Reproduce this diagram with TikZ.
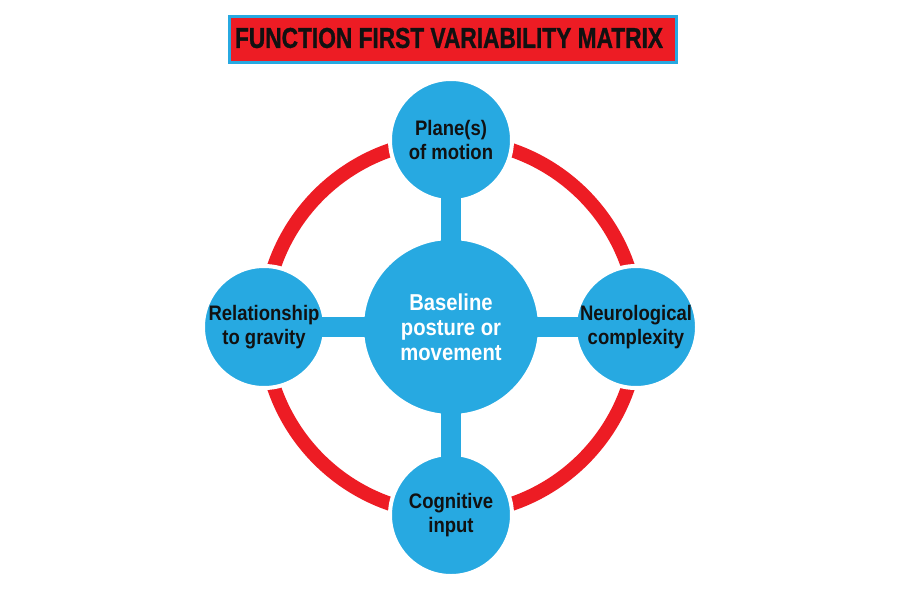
\documentclass[tikz,border=0pt]{standalone}
\usepackage{fontspec}
\setmainfont{Liberation Sans}
\newfontfamily\condf[FakeStretch=0.88]{Liberation Sans}
\newfontfamily\titlef[FakeBold=1.2]{Liberation Sans Bold}
\usetikzlibrary{backgrounds}
\definecolor{cblue}{RGB}{39,169,225}
\definecolor{cred}{RGB}{237,28,36}
\definecolor{ctext}{RGB}{17,17,17}
\tikzset{
  outer/.style={circle, fill=cblue, draw=white, line width=2pt, minimum size=61pt, inner sep=0pt,
    align=center, text=ctext, font=\condf\bfseries\fontsize{10.5pt}{12pt}\selectfont},
  hub/.style={circle, fill=cblue, draw=white, line width=2pt, minimum size=89pt, inner sep=0pt,
    align=center, text=white, font=\condf\bfseries\fontsize{11.5pt}{12.5pt}\selectfont},
  link/.style={cblue, line width=10pt, shorten <=-2.5pt, shorten >=-2.5pt},
  ring/.style={cred, line width=7pt},
  titlebox/.style={fill=cred, draw=cblue, line width=1.5pt, minimum width=223.5pt, minimum height=23pt, inner sep=0pt}
}
\begin{document}
\begin{tikzpicture}[x=0.5pt,y=-0.5pt]
\useasboundingbox (0,0) rectangle (900,600);
\node[titlebox] (titlebg) at (453,39.75) {};
\node[inner sep=0pt, text=ctext] (title) at (449,38) {\resizebox{214pt}{10pt}{\titlef FUNCTION FIRST VARIABILITY MATRIX}};
\node[hub] (c) at (451,327) {Baseline\\posture or\\movement};
\node[outer] (t) at (451,140) {Plane(s)\\of motion};
\node[outer] (l) at (264,327) {Relationship\\to gravity};
\node[outer] (r) at (636,327) {Neurological\\complexity};
\node[outer] (b) at (451,515) {Cognitive\\input};
\draw[link] (c) -- (t);
\draw[link] (c) -- (b);
\draw[link] (c) -- (l);
\draw[link] (c) -- (r);
\begin{scope}[on background layer]
\fill[white] (0,0) rectangle (900,600);
\draw[ring] (c.center) circle [radius=93.5pt];
\end{scope}
\end{tikzpicture}
\end{document}
